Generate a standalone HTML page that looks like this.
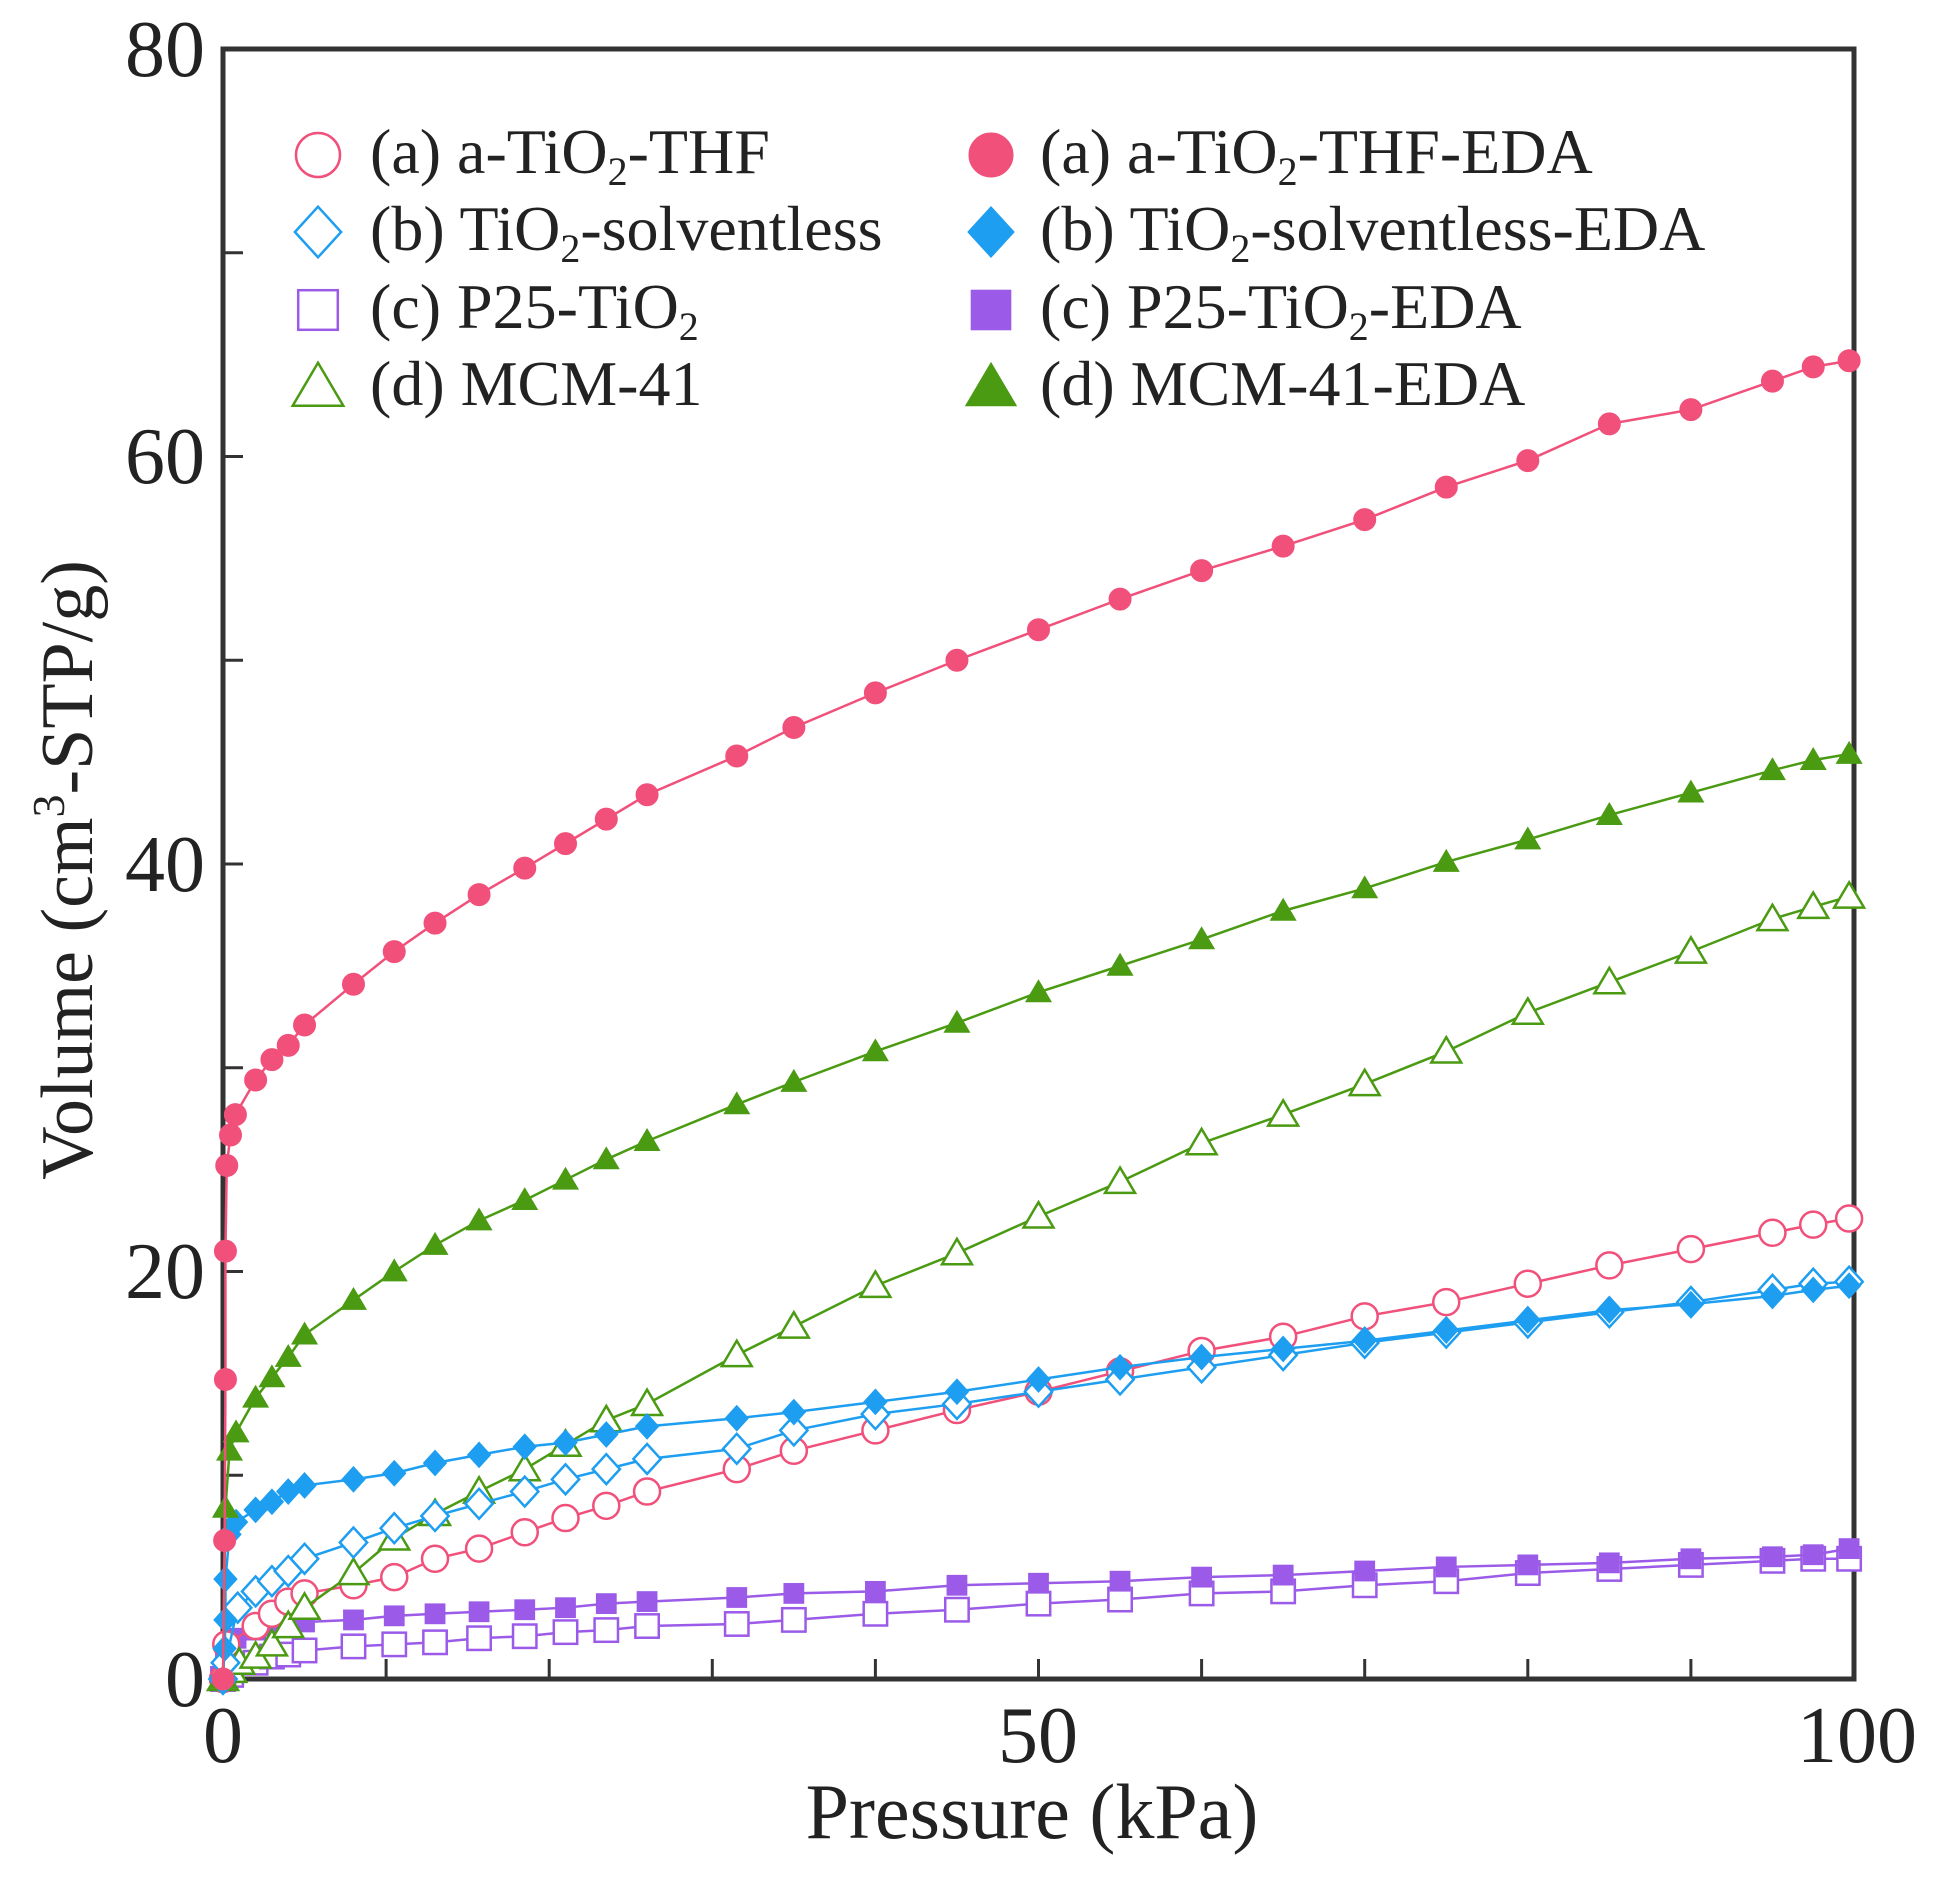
<!DOCTYPE html>
<html><head><meta charset="utf-8"><style>
html,body{margin:0;padding:0;background:#fff;}
svg{display:block;}
text{font-family:"Liberation Serif",serif;fill:#222;}
</style></head><body>
<svg id="s" width="1950" height="1880" viewBox="0 0 1950 1880" xmlns="http://www.w3.org/2000/svg">
<rect x="223" y="49" width="1631" height="1630" fill="none" stroke="#333" stroke-width="5"/>
<g id="ticks" stroke="#333" stroke-width="3"></g>
<g font-size="80" text-anchor="end">
<text x="205" y="1706">0</text>
<text x="205" y="1298">20</text>
<text x="205" y="891">40</text>
<text x="205" y="483">60</text>
<text x="205" y="76">80</text>
</g>
<g font-size="80" text-anchor="middle">
<text x="223" y="1762">0</text>
<text x="1038" y="1762">50</text>
<text x="1857" y="1762">100</text>
</g>
<text x="1032" y="1838" font-size="78" text-anchor="middle">Pressure (kPa)</text>
<text transform="translate(92,870) rotate(-90)" font-size="74" text-anchor="middle">Volume (cm<tspan font-size="46" dy="-28">3</tspan><tspan dy="28">-STP/g)</tspan></text>
<g id="series"></g>
<g font-size="64" id="leg">
<text x="370" y="173">(a) a-TiO<tspan font-size="40" dy="12">2</tspan><tspan dy="-12">-THF</tspan></text>
<text x="370" y="250">(b) TiO<tspan font-size="40" dy="12">2</tspan><tspan dy="-12">-solventless</tspan></text>
<text x="370" y="328">(c) P25-TiO<tspan font-size="40" dy="12">2</tspan></text>
<text x="370" y="405">(d) MCM-41</text>
<text x="1040" y="173">(a) a-TiO<tspan font-size="40" dy="12">2</tspan><tspan dy="-12">-THF-EDA</tspan></text>
<text x="1040" y="250">(b) TiO<tspan font-size="40" dy="12">2</tspan><tspan dy="-12">-solventless-EDA</tspan></text>
<text x="1040" y="328">(c) P25-TiO<tspan font-size="40" dy="12">2</tspan><tspan dy="-12">-EDA</tspan></text>
<text x="1040" y="405">(d) MCM-41-EDA</text>
</g>
<g id="legm"></g>
</svg>
<script>
var NS="http://www.w3.org/2000/svg";
function el(p,n,a){var e=document.createElementNS(NS,n);for(var k in a)e.setAttribute(k,a[k]);p.appendChild(e);return e;}
var T=document.getElementById('ticks');
for(var v=10;v<80;v+=10){var y=1679-v*20.375;el(T,'line',{x1:223,y1:y,x2:243,y2:y});}
for(var p=10;p<100;p+=10){var x=223+p*16.31;el(T,'line',{x1:x,y1:1679,x2:x,y2:1659});}
var X=[2,3,4,5,8,10.5,13,15.7,18.5,21,23.5,26,31.5,35,40,45,50,55,60,65,70,75,80,85,90,95,97.5,99.7];
function mk(init,vals){var a=init.slice();for(var i=0;i<vals.length;i++)a.push([X[i],vals[i]]);return a;}
var PK='#f0507a',BL='#1e9ef0',PU='#9b5be8',GR='#4a9a12';
var S=[
{c:PU,m:'s',f:0,d:mk([[0,0],[0.5,0.2]],[0.8,1.1,1.2,1.4,1.6,1.7,1.8,2.0,2.1,2.3,2.4,2.6,2.7,2.9,3.2,3.4,3.7,3.9,4.2,4.3,4.6,4.8,5.2,5.4,5.6,5.8,5.9,5.9])},
{c:PU,m:'s',f:1,d:mk([[0,0],[0.15,1.1],[0.8,2.0]],[2.4,2.6,2.7,2.8,2.9,3.1,3.2,3.3,3.4,3.5,3.7,3.8,4.0,4.2,4.3,4.6,4.7,4.8,5.0,5.1,5.3,5.5,5.6,5.7,5.9,6.0,6.1,6.4])},
{c:PK,m:'c',f:0,d:mk([[0,0],[0.2,1.7]],[2.6,3.2,3.8,4.2,4.6,5.0,5.9,6.4,7.2,7.9,8.5,9.2,10.3,11.2,12.2,13.2,14.1,15.1,16.1,16.8,17.8,18.5,19.4,20.3,21.1,21.9,22.3,22.6])},
{c:GR,m:'t',f:0,d:mk([[0,0],[0.5,0.4],[1,0.8]],[1.1,1.7,2.6,3.5,5.2,6.9,8.1,9.2,10.3,11.5,12.7,13.5,15.9,17.3,19.3,20.9,22.7,24.4,26.3,27.7,29.2,30.8,32.7,34.2,35.7,37.3,37.9,38.4])},
{c:BL,m:'d',f:0,d:mk([[0,0],[0.15,0.8],[0.9,3.5]],[4.3,4.8,5.3,5.9,6.7,7.4,8.0,8.6,9.2,9.8,10.3,10.8,11.3,12.2,13.0,13.5,14.1,14.7,15.3,15.9,16.5,17.0,17.5,18.0,18.5,19.1,19.4,19.5])},
{c:BL,m:'d',f:1,d:mk([[0,0],[0.1,1.5],[0.15,2.9],[0.15,4.9],[0.4,7.1],[0.8,7.7]],[8.3,8.7,9.2,9.5,9.8,10.1,10.6,11.0,11.4,11.6,12.0,12.4,12.8,13.1,13.6,14.1,14.7,15.3,15.8,16.2,16.6,17.1,17.6,18.1,18.4,18.8,19.1,19.3])},
{c:GR,m:'t',f:1,d:mk([[0,0],[0.15,8.4],[0.4,11.2],[0.8,12.1]],[13.8,14.8,15.8,16.9,18.6,20.0,21.3,22.5,23.5,24.5,25.5,26.4,28.2,29.3,30.8,32.2,33.7,35.0,36.3,37.7,38.8,40.1,41.2,42.4,43.5,44.6,45.1,45.4])},
{c:PK,m:'c',f:1,d:mk([[0,0],[0.1,6.8],[0.15,14.7],[0.15,21],[0.23,25.2],[0.46,26.7],[0.76,27.7]],[29.4,30.4,31.1,32.1,34.1,35.7,37.1,38.5,39.8,41.0,42.2,43.4,45.3,46.7,48.4,50.0,51.5,53.0,54.4,55.6,56.9,58.5,59.8,61.6,62.3,63.7,64.4,64.7])}
];
function marker(g,m,x,y,r,c,f){
 var fill=f?c:'#fff',sw=f?1:2.5;
 if(m=='c')el(g,'circle',{cx:x,cy:y,r:r,fill:fill,stroke:c,'stroke-width':sw});
 else if(m=='s')el(g,'rect',{x:x-r*0.9,y:y-r*0.9,width:r*1.8,height:r*1.8,fill:fill,stroke:c,'stroke-width':sw});
 else if(m=='d')el(g,'polygon',{points:[x,y-r*1.15,x+r*1.05,y,x,y+r*1.15,x-r*1.05,y].join(' '),fill:fill,stroke:c,'stroke-width':sw});
 else el(g,'polygon',{points:[x,y-r*1.1,x+r*1.15,y+r*0.85,x-r*1.15,y+r*0.85].join(' '),fill:fill,stroke:c,'stroke-width':sw});
}
var G=document.getElementById('series');
S.forEach(function(s){
 var pts=s.d.map(function(p){return [223+p[0]*16.31,1679-p[1]*20.375];});
 el(G,'polyline',{points:pts.map(function(p){return p.join(',');}).join(' '),fill:'none',stroke:s.c,'stroke-width':2.5});
 pts.forEach(function(p){marker(G,s.m,p[0],p[1],s.f?11:13,s.c,s.f);});
});
var L=document.getElementById('legm');
var ly=[155,232,310,387],lm=['c','d','s','t'],lc=[PK,BL,PU,GR];
for(var i=0;i<4;i++){marker(L,lm[i],318,ly[i],22,lc[i],0);marker(L,lm[i],991,ly[i],22,lc[i],1);}
</script>
</body></html>
